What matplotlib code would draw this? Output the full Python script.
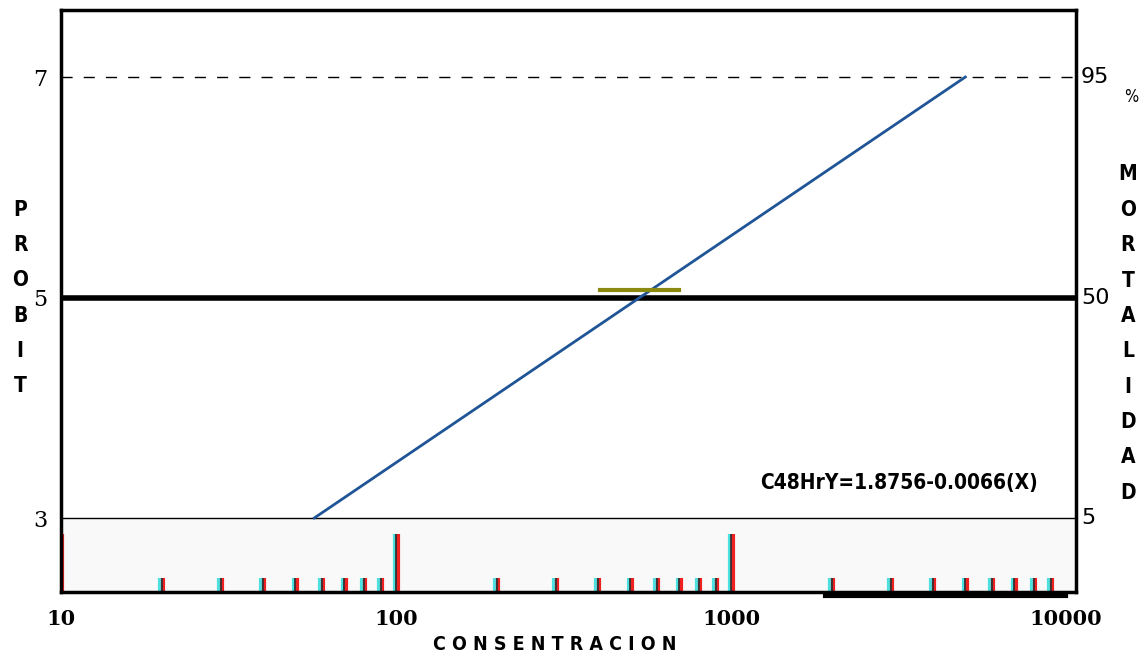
import matplotlib.pyplot as plt
import matplotlib.transforms as mtransforms
import numpy as np

# probit regression line (concentration, probit)
line_conc = [57, 5000]
line_probit = [3, 7]
# LC50 marker
lc50_conc = [405, 697]
lc50_probit = [5.07, 5.07]
# reference probit levels and mortality %
probit_levels = [3, 5, 7]
mortality_labels = ["5", "50", "95"]
major_ticks = [10, 100, 1000]
minor_ticks = [20, 30, 40, 50, 60, 70, 80, 90,
               200, 300, 400, 500, 600, 700, 800, 900,
               2000, 3000, 4000, 5000, 6000, 7000, 8000, 9000]
x_labels = ["10", "100", "1000", "10000"]
x_label_pos = [10, 100, 1000, 10000]
equation = "C48HrY=1.8756-0.0066(X)"

cond = dict(family="DejaVu Sans", stretch="condensed", weight="bold")

fig = plt.figure(figsize=(11.44, 6.58), dpi=100)
ax = fig.add_axes([0.0533, 0.1003, 0.8873, 0.8845])
ax.set_xscale("log")
ax.set_xlim(10, 10700)
ax.set_ylim(2.329, 7.608)
for s in ax.spines.values():
    s.set_linewidth(2.5)

# light band under probit 3
ax.axhspan(2.329, 3, color="#f9f9f9", zorder=0)

ax.axhline(7, color="black", lw=1, ls=(0, (8, 8)))
ax.axhline(5, color="black", lw=4)
ax.axhline(3, color="black", lw=1)

ax.plot(line_conc, line_probit, color="#1f5596", lw=2)
ax.plot(lc50_conc, lc50_probit, color="#8a8a10", lw=3)

# stereo-looking tick marks
trans = ax.get_xaxis_transform()
cyan_t = mtransforms.offset_copy(trans, fig=fig, x=-1.5, y=0, units="dots")
red_t = mtransforms.offset_copy(trans, fig=fig, x=1.5, y=0, units="dots")
for ticks, h in [(minor_ticks, 0.024), (major_ticks, 0.1)]:
    for t in ticks:
        ax.plot([t, t], [0, h], color="#4de0e0", lw=3, transform=cyan_t, solid_capstyle="butt")
        ax.plot([t, t], [0, h], color="#ee2020", lw=3, transform=red_t, solid_capstyle="butt")
        ax.plot([t, t], [0, h], color="#333333", lw=1.3, transform=trans, solid_capstyle="butt")

ax.plot([1900, 10000], [-0.007, -0.007], color="black", lw=3, transform=trans, clip_on=False)

ax.set_xticks([])
ax.minorticks_off()
ax.set_yticks(probit_levels)
ax.set_yticklabels([str(p) for p in probit_levels], family="DejaVu Serif", fontsize=16)
ax.tick_params(axis="y", direction="in", length=0, pad=10)

for lab, pos in zip(x_labels, x_label_pos):
    ax.text(pos, -0.03, lab, transform=trans, ha="center", va="top",
            family="DejaVu Serif", weight="bold", fontsize=15)

ytrans = ax.get_yaxis_transform()
for lab, p in zip(mortality_labels, probit_levels):
    ax.text(1.005, p, lab, transform=ytrans, ha="left", va="center",
            family="DejaVu Sans", fontsize=16)
ax.text(1.047, 6.82, "%", transform=ytrans, ha="left", va="center",
        family="DejaVu Sans", stretch="condensed", fontsize=12)

ax.text(0.689, 3.32, equation, transform=ytrans, ha="left", va="center",
        fontsize=15, **cond)

fig.text(0.0175, 0.547, "\n".join("PROBIT"), ha="center", va="center",
         fontsize=15, linespacing=1.96, **cond)
fig.text(0.986, 0.493, "\n".join("MORTALIDAD"), ha="center", va="center",
         fontsize=15, linespacing=1.96, **cond)
fig.text(0.485, 0.02, " ".join("CONSENTRACION"), ha="center", va="center",
         fontsize=14, **cond)

fig.savefig("out.png", dpi=100)
